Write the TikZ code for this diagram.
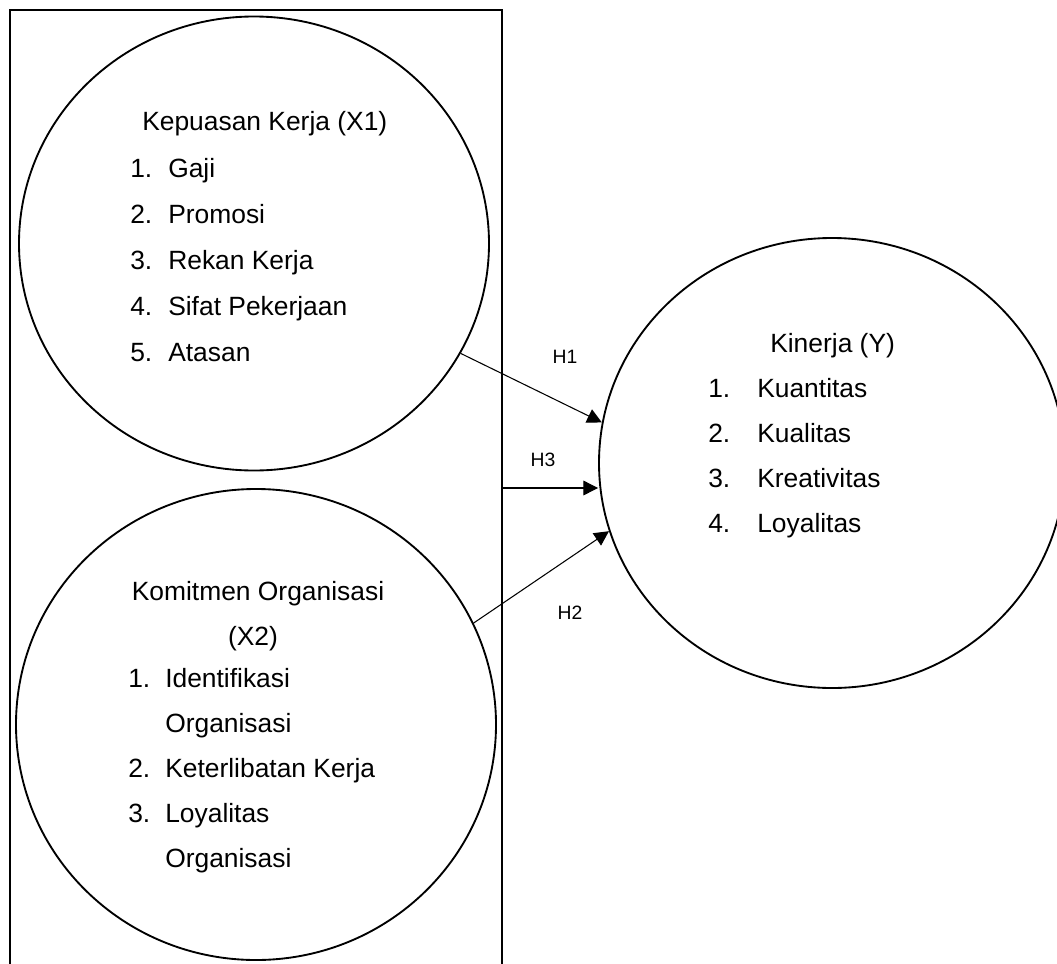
\documentclass[tikz,border=0pt]{standalone}
\usepackage{fontspec}
\setmainfont{Liberation Sans}
\usetikzlibrary{shapes.geometric,arrows.meta}
\tikzset{
  bubble/.style={ellipse, draw=black, line width=1.4pt, inner sep=0pt},
  item/.style={anchor=base west, inner sep=0pt, font=\fontsize{19.8}{24}\selectfont},
  ctitle/.style={anchor=base, inner sep=0pt, font=\fontsize{19.8}{24}\selectfont},
  hlabel/.style={inner sep=0pt, font=\fontsize{14.5}{17}\selectfont},
  arr/.style={line width=0.8pt, -{Triangle[length=11pt,width=11pt]}}
}
\begin{document}
\begin{tikzpicture}[x=0.75pt,y=-0.75pt]
\useasboundingbox (0,0) rectangle (1057,964);
% frame
\draw[line width=1.5pt] (10,1010) -- (10,10) -- (502,10) -- (502,1010);
\coordinate (h3s) at (502,488);
% circles
\node[bubble, minimum width=352.5pt, minimum height=340.5pt] (x1) at (254,243.5) {};
\node[bubble, minimum width=360pt, minimum height=353.25pt] (x2) at (256,724.5) {};
\node[bubble, minimum width=349.5pt, minimum height=337.5pt] (y) at (832,463) {};
% X1 text
\node[item] (x1t) at (142,130) {Kepuasan Kerja (X1)};
\node[item] (x1a) at (130,177) {1.};
\node[item] (x1aa) at (168,177) {Gaji};
\node[item] (x1b) at (130,223) {2.};
\node[item] (x1bb) at (168,223) {Promosi};
\node[item] (x1c) at (130,269) {3.};
\node[item] (x1cc) at (168,269) {Rekan Kerja};
\node[item] (x1d) at (130,315) {4.};
\node[item] (x1dd) at (168,315) {Sifat Pekerjaan};
\node[item] (x1e) at (130,361) {5.};
\node[item] (x1ee) at (168,361) {Atasan};
% Y text
\node[item] (yt) at (770,352) {Kinerja (Y)};
\node[item] (ya) at (708,397) {1.};
\node[item] (yaa) at (757,397) {Kuantitas};
\node[item] (yb) at (708,442) {2.};
\node[item] (ybb) at (757,442) {Kualitas};
\node[item] (yc) at (708,487) {3.};
\node[item] (ycc) at (757,487) {Kreativitas};
\node[item] (yd) at (708,532) {4.};
\node[item] (ydd) at (757,532) {Loyalitas};
% X2 text
\node[ctitle] (x2t) at (258,600) {Komitmen Organisasi};
\node[ctitle] (x2u) at (253,645) {(X2)};
\node[item] (x2a) at (128,687) {1.};
\node[item] (x2aa) at (165,687) {Identifikasi};
\node[item] (x2ab) at (165,732) {Organisasi};
\node[item] (x2b) at (128,777) {2.};
\node[item] (x2bb) at (165,777) {Keterlibatan Kerja};
\node[item] (x2c) at (128,822) {3.};
\node[item] (x2cc) at (165,822) {Loyalitas};
\node[item] (x2cb) at (165,867) {Organisasi};
% arrows
\draw[arr] (x1.-28.4) -- (y.170.3);
\draw[arr] (h3s) -- (y.west |- h3s);
\draw[arr] (x2.25.2) -- (y.197.3);
% labels
\node[hlabel] (h1) at (565,357) {H1};
\node[hlabel] (h3) at (543,460) {H3};
\node[hlabel] (h2) at (570,613) {H2};
\end{tikzpicture}
\end{document}
